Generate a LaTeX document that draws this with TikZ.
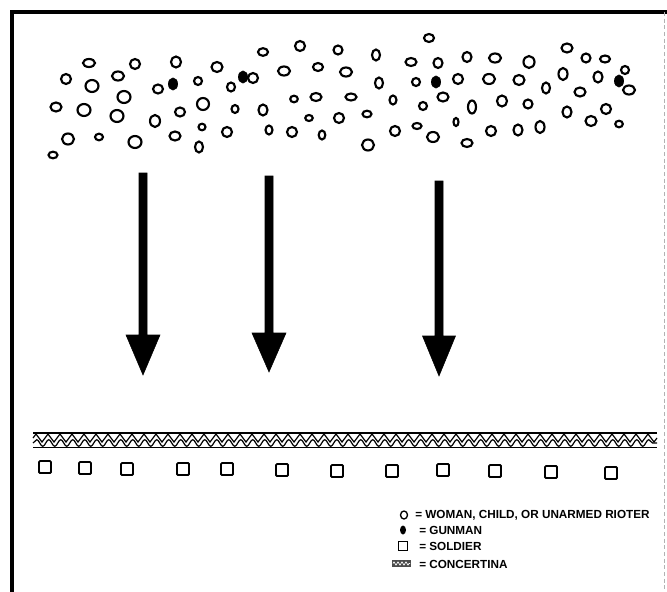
\documentclass[tikz,border=0pt]{standalone}
\usepackage{fontspec}
\setmainfont{Liberation Sans}
\usetikzlibrary{decorations.pathmorphing}
\tikzset{
  pers/.style={draw=black, line width=1.6pt, fill=white},
  gun/.style={fill=black, draw=black, line width=0.6pt},
  soldier/.style={draw=black, line width=1.4pt, rounded corners=0.8pt},
  bigarrow/.style={fill=black, draw=black, line width=0.4pt},
  legendtext/.style={anchor=west, inner sep=0pt, font=\fontsize{8.8}{10}\selectfont\bfseries},
}
% person: x y rx ry
\newcommand{\pp}[4]{\draw[pers] (#1,#2) ellipse [x radius=#3, y radius=#4];}
\newcommand{\gunman}[2]{\fill[gun] (#1,#2) ellipse [x radius=4.5, y radius=6];}
\newcommand{\sq}[2]{\draw[soldier] (#1-6,#2-6) rectangle (#1+6,#2+6);}
\newcommand{\bigarr}[5]{% x, top, base, tip, halfwidth
  \fill[bigarrow] (#1-4,#2) -- (#1+4,#2) -- (#1+4,#3) -- (#1+#5,#3) -- (#1,#4) -- (#1-#5,#3) -- (#1-4,#3) -- cycle;}
\begin{document}
\begin{tikzpicture}[x=0.75pt,y=-0.75pt]
\useasboundingbox (0,0) rectangle (667,592);
% frame
\draw[line width=2.4pt] (12,592) -- (12,12) -- (667,12);
\draw[line width=0.4pt, black!30, dash pattern=on 3pt off 2pt] (664,12) -- (664,592);
% crowd
\pp{89}{63}{6}{4}
\pp{135}{64}{5}{5}
\pp{176}{62}{5}{5.5}
\pp{217}{67}{5.5}{5}
\pp{66}{79}{5}{5}
\pp{118}{76}{6}{4.5}
\pp{92}{86}{6.5}{6}
\pp{124}{97}{6.5}{6}
\pp{198}{81}{4}{4}
\pp{158}{89}{5}{4.5}
\pp{253}{78}{5}{5}
\pp{231}{87}{4}{4.5}
\pp{263}{52}{5}{3.8}
\pp{300}{46}{5}{5}
\pp{284}{71}{6}{4.5}
\pp{318}{67}{5}{4}
\pp{56}{107}{5.5}{4.5}
\pp{84}{110}{6.5}{6}
\pp{117}{116}{6.5}{6}
\pp{155}{121}{5}{6}
\pp{180}{112}{5}{4.5}
\pp{203}{104}{6}{6}
\pp{235}{109}{3.5}{4}
\pp{263}{110}{4.5}{5.5}
\pp{294}{99}{3.8}{3.3}
\pp{316}{97}{5.5}{4}
\pp{309}{118}{3.8}{3}
\pp{68}{139}{6}{5.5}
\pp{99}{137}{4}{3.3}
\pp{135}{142}{6.5}{6}
\pp{175}{136}{5.5}{4.5}
\pp{202}{127}{3.5}{3.3}
\pp{199}{147}{4}{5.5}
\pp{227}{132}{5}{5}
\pp{269}{130}{3.5}{4.5}
\pp{292}{132}{5}{5}
\pp{322}{135}{3.3}{4.5}
\pp{53}{155}{4.5}{3.3}
\pp{339}{118}{5}{5}
\pp{429}{38}{5}{4}
\pp{338}{50}{4.5}{4.5}
\pp{376}{55}{4}{5.5}
\pp{411}{62}{5.5}{4}
\pp{438}{63}{4.5}{5}
\pp{467}{57}{4.5}{5}
\pp{495}{58}{6}{4.5}
\pp{529}{62}{5.5}{6}
\pp{567}{48}{5.5}{4.5}
\pp{586}{58}{4.5}{4.5}
\pp{605}{59}{5}{3.5}
\pp{346}{72}{6}{4.5}
\pp{379}{83}{4}{5.5}
\pp{416}{82}{4}{4}
\pp{458}{79}{5}{5}
\pp{489}{79}{6}{5}
\pp{519}{80}{5.5}{5}
\pp{546}{88}{4}{5.5}
\pp{563}{74}{4.5}{6}
\pp{598}{77}{4.5}{5.5}
\pp{625}{70}{4}{4}
\pp{629}{90}{6}{4.5}
\pp{580}{92}{5.5}{4.5}
\pp{351}{97}{5.5}{3.5}
\pp{393}{100}{3.5}{4.5}
\pp{423}{106}{4}{4}
\pp{443}{97}{5.5}{4.5}
\pp{472}{107}{4}{6.5}
\pp{502}{101}{5}{5.5}
\pp{528}{104}{4.5}{4.5}
\pp{567}{112}{4.5}{5.5}
\pp{606}{109}{5}{5}
\pp{591}{121}{5.5}{5}
\pp{619}{124}{3.8}{3.3}
\pp{367}{114}{4.5}{3.3}
\pp{395}{131}{5}{5}
\pp{417}{126}{4.5}{3}
\pp{433}{137}{6}{5}
\pp{456}{122}{2.5}{4}
\pp{491}{131}{5}{5}
\pp{518}{130}{4.5}{5.5}
\pp{540}{127}{4.5}{6}
\pp{368}{145}{6}{5.5}
\pp{467}{143}{5.5}{4}
% gunmen
\gunman{173}{84}
\gunman{243}{77}
\gunman{436}{82}
\gunman{619}{81}
% arrows
\bigarr{143}{173}{335}{375}{17}
\bigarr{269}{176}{333}{372}{17}
\bigarr{439}{181}{336}{376}{16.5}
% concertina
\draw[line width=1.8pt] (33,433) -- (657,433);
\draw[line width=1.2pt] (33,447.5) -- (657,447.5);
\draw[line width=0.9pt, decorate, decoration={zigzag, segment length=9, amplitude=3}] (33,438) -- (657,438);
\draw[line width=0.9pt, decorate, decoration={snake, segment length=9, amplitude=2.5}] (33,443) -- (657,443);
% soldiers
\sq{45}{467}
\sq{85}{468}
\sq{127}{469}
\sq{183}{469}
\sq{227}{469}
\sq{282}{470}
\sq{337}{471}
\sq{392}{471}
\sq{443}{470}
\sq{495}{471}
\sq{551}{472}
\sq{611}{473}
% legend
\draw[line width=1pt] (404,515) ellipse [x radius=3.5, y radius=4];
\fill (403,530) ellipse [x radius=3, y radius=4.5];
\draw[line width=1pt] (398.5,541.5) rectangle (407.5,550.5);
\fill[black!70] (392,560) rectangle (411,567);
\draw[white, line width=0.5pt, decorate, decoration={zigzag, segment length=3, amplitude=1.2}] (393,563.5) -- (410,563.5);
\node[legendtext] (l1) at (415,515) {= WOMAN, CHILD, OR UNARMED RIOTER};
\node[legendtext] (l2) at (419,530) {= GUNMAN};
\node[legendtext] (l3) at (419,546) {= SOLDIER};
\node[legendtext] (l4) at (419,564) {= CONCERTINA};
\end{tikzpicture}
\end{document}
